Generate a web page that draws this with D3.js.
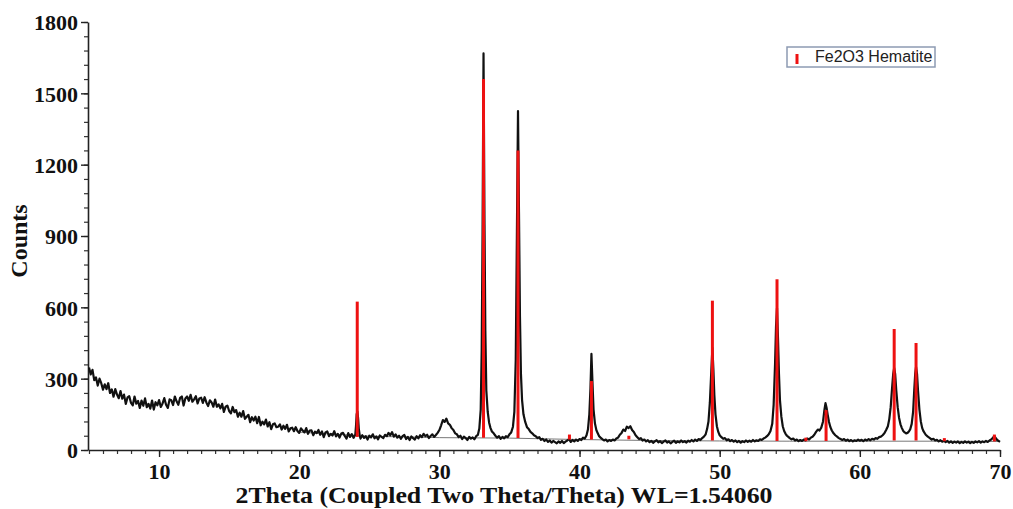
<!DOCTYPE html>
<html>
<head>
<meta charset="utf-8">
<script src="https://cdn.jsdelivr.net/npm/d3@7"></script>
<style>
    body { margin: 0; background: #ffffff; }
    svg { display: block; }
</style>
</head>
<body>
<svg id="chart" width="1013" height="509"></svg>
<script>
var pattern = [
    [5.0,347],[5.125,318],[5.25,337],[5.375,294],[5.5,305],[5.625,271],[5.75,300],[5.875,281],
    [6.0,254],[6.125,276],[6.25,256],[6.375,281],[6.5,240],[6.625,255],[6.75,224],[6.875,256],
    [7.0,233],[7.125,218],[7.25,248],[7.375,216],[7.5,233],[7.625,194],[7.75,221],[7.875,226],
    [8.0,198],[8.125,188],[8.25,225],[8.375,195],[8.5,206],[8.625,177],[8.75,208],[8.875,186],
    [9.0,217],[9.125,180],[9.25,194],[9.375,174],[9.5,208],[9.625,170],[9.75,201],[9.875,188],
    [10.0,210],[10.125,181],[10.25,196],[10.375,218],[10.5,190],[10.625,177],[10.75,213],[10.875,209],
    [11.0,189],[11.125,225],[11.25,205],[11.375,190],[11.5,219],[11.625,225],[11.75,187],[11.875,217],
    [12.0,225],[12.125,207],[12.25,232],[12.375,203],[12.5,213],[12.625,226],[12.75,196],[12.875,217],
    [13.0,220],[13.125,198],[13.25,222],[13.375,200],[13.5,185],[13.625,209],[13.75,200],[13.875,182],
    [14.0,212],[14.125,182],[14.25,192],[14.375,175],[14.5,194],[14.625,160],[14.75,182],[14.875,187],
    [15.0,164],[15.125,154],[15.25,181],[15.375,159],[15.5,168],[15.625,140],[15.75,157],[15.875,140],
    [16.0,164],[16.125,131],[16.25,140],[16.375,148],[16.5,117],[16.625,138],[16.75,124],[16.875,140],
    [17.0,113],[17.125,139],[17.25,104],[17.375,119],[17.5,108],[17.625,128],[17.75,99],[17.875,117],
    [18.0,88],[18.125,108],[18.25,112],[18.375,96],[18.5,98],[18.625,108],[18.75,86],[18.875,102],
    [19.0,89],[19.125,106],[19.25,78],[19.375,91],[19.5,94],[19.625,79],[19.75,96],[19.875,80],
    [20.0,72],[20.125,91],[20.25,82],[20.375,74],[20.5,92],[20.625,68],[20.75,82],[20.875,83],
    [21.0,62],[21.125,77],[21.25,71],[21.375,84],[21.5,64],[21.625,78],[21.75,54],[21.875,74],
    [22.0,78],[22.125,58],[22.25,68],[22.375,61],[22.5,79],[22.625,57],[22.75,68],[22.875,52],
    [23.0,69],[23.125,72],[23.25,59],[23.375,48],[23.5,71],[23.625,55],[23.75,67],[23.875,51],
    [24.0,64],[24.05,100],[24.1,150],[24.15,162],[24.2,135],[24.25,90],[24.32,60],
    [24.375,48],[24.5,62],[24.625,51],[24.75,58],[24.875,44],[25.0,60],[25.125,53],[25.25,66],
    [25.375,49],[25.5,57],[25.625,45],[25.75,61],[25.875,55],[26.0,50],[26.125,64],[26.25,58],
    [26.375,72],[26.5,62],[26.625,75],[26.75,56],[26.875,66],[27.0,52],[27.125,60],[27.25,47],
    [27.375,58],[27.5,63],[27.625,46],[27.75,55],[27.875,42],[28.0,57],[28.125,50],[28.25,44],
    [28.375,58],[28.5,49],[28.625,62],[28.75,54],[28.875,68],[29.0,58],[29.125,64],[29.25,50],
    [29.375,59],[29.5,66],[29.625,55],[29.75,63],[29.875,72],[30.0,84],[30.125,104],[30.25,126],
    [30.375,118],[30.5,132],[30.625,112],[30.75,106],[30.875,92],[31.0,84],[31.125,70],[31.25,66],
    [31.375,54],[31.5,60],[31.625,46],[31.75,56],[31.875,50],[32.0,42],[32.125,55],[32.25,48],
    [32.375,53],[32.5,45],[32.625,58],[32.75,64],[32.85,90],[32.95,170],[33.02,420],[33.08,900],
    [33.15,1668],[33.22,950],[33.28,500],[33.35,250],[33.45,160],[33.55,115],[33.65,92],[33.75,78],
    [33.875,70],[34.0,60],[34.125,52],[34.25,58],[34.375,47],[34.5,55],[34.625,49],[34.75,58],
    [34.875,54],[35.0,66],[35.125,74],[35.25,98],[35.35,160],[35.45,380],[35.53,900],[35.61,1425],
    [35.68,1000],[35.75,560],[35.82,320],[35.9,210],[36.0,150],[36.125,118],[36.25,96],[36.375,88],
    [36.5,76],[36.625,70],[36.75,62],[36.875,58],[37.0,50],[37.125,54],[37.25,43],[37.375,47],
    [37.5,38],[37.625,44],[37.75,34],[37.875,40],[38.0,31],[38.125,38],[38.25,33],[38.375,28],
    [38.5,36],[38.625,30],[38.75,38],[38.875,29],[39.0,35],[39.125,40],[39.25,46],[39.375,34],
    [39.5,42],[39.625,36],[39.75,44],[39.875,38],[40.0,46],[40.125,42],[40.25,52],[40.375,48],
    [40.5,62],[40.6,86],[40.7,150],[40.78,260],[40.85,404],[40.92,290],[41.0,170],[41.1,112],
    [41.2,84],[41.3,70],[41.4,58],[41.5,52],[41.625,46],[41.75,40],[41.875,44],[42.0,36],
    [42.125,42],[42.25,38],[42.375,44],[42.5,40],[42.625,48],[42.75,52],[42.875,64],[43.0,72],
    [43.125,86],[43.25,80],[43.375,98],[43.5,92],[43.625,100],[43.75,84],[43.875,76],[44.0,62],
    [44.125,54],[44.25,46],[44.375,50],[44.5,40],[44.625,44],[44.75,36],[44.875,41],[45.0,33],
    [45.125,38],[45.25,30],[45.375,36],[45.5,41],[45.625,32],[45.75,37],[45.875,29],[46.0,35],
    [46.125,40],[46.25,31],[46.375,36],[46.5,28],[46.625,34],[46.75,39],[46.875,30],[47.0,36],
    [47.125,32],[47.25,40],[47.375,33],[47.5,37],[47.625,31],[47.75,39],[47.875,35],[48.0,42],
    [48.125,36],[48.25,44],[48.375,38],[48.5,46],[48.625,42],[48.75,50],[48.875,56],[49.0,66],
    [49.1,88],[49.2,120],[49.3,200],[49.4,330],[49.48,430],[49.55,340],[49.62,230],[49.7,150],
    [49.8,100],[49.9,76],[50.0,62],[50.125,54],[50.25,47],[50.375,50],[50.5,41],[50.625,45],
    [50.75,37],[50.875,42],[51.0,35],[51.125,40],[51.25,33],[51.375,38],[51.5,31],[51.625,37],
    [51.75,33],[51.875,40],[52.0,34],[52.125,39],[52.25,35],[52.375,42],[52.5,36],[52.625,41],
    [52.75,38],[52.875,45],[53.0,42],[53.125,48],[53.25,52],[53.375,58],[53.5,66],[53.625,80],
    [53.75,110],[53.85,190],[53.95,360],[54.02,520],[54.09,597],[54.16,470],[54.23,320],[54.3,210],
    [54.4,140],[54.5,100],[54.6,80],[54.7,68],[54.8,60],[54.9,55],[55.0,50],[55.125,45],
    [55.25,48],[55.375,40],[55.5,44],[55.625,37],[55.75,42],[55.875,38],[56.0,44],[56.125,40],
    [56.25,48],[56.375,44],[56.5,52],[56.625,56],[56.75,64],[56.875,76],[57.0,86],[57.125,82],
    [57.25,94],[57.375,120],[57.475,170],[57.55,197],[57.625,178],[57.7,150],[57.8,118],[57.9,96],
    [58.0,82],[58.125,70],[58.25,62],[58.375,56],[58.5,50],[58.625,46],[58.75,42],[58.875,46],
    [59.0,39],[59.125,44],[59.25,37],[59.375,42],[59.5,36],[59.625,41],[59.75,38],[59.875,44],
    [60.0,39],[60.125,43],[60.25,37],[60.375,44],[60.5,40],[60.625,46],[60.75,41],[60.875,47],
    [61.0,44],[61.125,50],[61.25,47],[61.375,54],[61.5,56],[61.625,62],[61.75,70],[61.875,84],
    [62.0,100],[62.1,130],[62.2,180],[62.3,260],[62.38,320],[62.45,345],[62.52,320],[62.6,250],
    [62.7,180],[62.8,135],[62.9,108],[63.0,92],[63.1,80],[63.2,74],[63.3,70],[63.4,72],
    [63.5,78],[63.6,88],[63.7,110],[63.8,160],[63.88,250],[63.95,320],[64.01,350],[64.08,320],
    [64.15,250],[64.25,170],[64.35,120],[64.45,92],[64.55,78],[64.7,64],[64.85,56],[65.0,50],
    [65.125,44],[65.25,47],[65.375,40],[65.5,43],[65.625,36],[65.75,41],[65.875,35],[66.0,39],
    [66.125,33],[66.25,38],[66.375,31],[66.5,36],[66.625,30],[66.75,35],[66.875,31],[67.0,36],
    [67.125,29],[67.25,34],[67.375,30],[67.5,36],[67.625,31],[67.75,35],[67.875,29],[68.0,34],
    [68.125,30],[68.25,36],[68.375,32],[68.5,37],[68.625,31],[68.75,36],[68.875,33],[69.0,38],
    [69.125,34],[69.25,40],[69.375,44],[69.5,52],[69.6,58],[69.7,50],[69.8,42],[69.9,38],
    [70.0,34]
];

// background curve under the peaks
var background = [[20,75],[25,58],[30,52],[35,50],[40,44],[45,40],[50,38],[55,37],[60,37],[65,37],[70,36]];

// Fe2O3 hematite reference lines
var stickPos  = [24.14, 33.15, 35.61, 39.28, 40.85, 43.52, 49.48, 54.09, 56.15, 57.59, 62.45, 64.01, 66.03, 69.6];
var stickTop  = [624, 1560, 1260, 65, 290, 60, 628, 718, 52, 168, 509, 450, 50, 65];
var stickBase = [55, 52, 50, 44, 44, 45, 40, 38, 37, 38, 40, 40, 37, 36];

var xTicks = [10, 20, 30, 40, 50, 60, 70];
var yTicks = [0, 300, 600, 900, 1200, 1500, 1800];

var serif = "'Liberation Serif', 'Times New Roman', serif";

var svg = d3.select("#chart");

var x = d3.scaleLinear().domain([4.93, 70]).range([88, 1000]);
var y = d3.scaleLinear().domain([0, 1800]).range([450, 22]);

// minor ticks
var xMinor = d3.range(5, 71, 1);
var yMinor = d3.range(0, 1801, 60);

svg.append("g")
    .attr("transform", "translate(0,450)")
    .call(d3.axisBottom(x).tickValues(xMinor).tickSize(4).tickFormat(""))
    .call(g => g.select(".domain").remove())
    .selectAll("line").attr("stroke", "#333").attr("stroke-width", 1.2);

svg.append("g")
    .attr("transform", "translate(88,0)")
    .call(d3.axisLeft(y).tickValues(yMinor).tickSize(4).tickFormat(""))
    .call(g => g.select(".domain").remove())
    .selectAll("line").attr("stroke", "#333").attr("stroke-width", 1.2);

// major axes
var xAxis = svg.append("g")
    .attr("transform", "translate(0,450)")
    .call(d3.axisBottom(x).tickValues(xTicks).tickSize(7).tickSizeOuter(0).tickPadding(6).tickFormat(d3.format("d")));

var yAxis = svg.append("g")
    .attr("transform", "translate(88,0)")
    .call(d3.axisLeft(y).tickValues(yTicks).tickSize(7).tickSizeOuter(0).tickPadding(3).tickFormat(d3.format("d")));

[xAxis, yAxis].forEach(function(a)
{
    a.select(".domain").attr("stroke", "#222").attr("stroke-width", 1.6);
    a.selectAll("line").attr("stroke", "#222").attr("stroke-width", 1.4);
    a.selectAll("text")
        .attr("font-family", serif)
        .attr("font-weight", "bold")
        .attr("font-size", 22)
        .attr("fill", "#111");
});
yAxis.selectAll("text").attr("dy", "0.36em");

// background line
var line = d3.line().x(d => x(d[0])).y(d => y(d[1]));

svg.append("path")
    .datum(background)
    .attr("d", line)
    .attr("fill", "none")
    .attr("stroke", "#555")
    .attr("stroke-width", 0.8);

// measured pattern
svg.append("path")
    .datum(pattern)
    .attr("d", line)
    .attr("fill", "none")
    .attr("stroke", "#111")
    .attr("stroke-width", 2.2)
    .attr("stroke-linejoin", "round");

// hematite sticks
svg.selectAll(".stick")
    .data(stickPos)
    .enter().append("line")
    .attr("class", "stick")
    .attr("x1", d => x(d))
    .attr("x2", d => x(d))
    .attr("y1", (d, i) => y(stickBase[i]))
    .attr("y2", (d, i) => y(stickTop[i]))
    .attr("stroke", "#ee1111")
    .attr("stroke-width", 3);

// axis titles
svg.append("text")
    .attr("x", 504)
    .attr("y", 503)
    .attr("text-anchor", "middle")
    .attr("font-family", serif)
    .attr("font-weight", "bold")
    .attr("font-size", 24)
    .attr("textLength", 537)
    .attr("lengthAdjust", "spacingAndGlyphs")
    .attr("fill", "#111")
    .text("2Theta (Coupled Two Theta/Theta) WL=1.54060");

svg.append("text")
    .attr("transform", "translate(27,241) rotate(-90)")
    .attr("text-anchor", "middle")
    .attr("font-family", serif)
    .attr("font-weight", "bold")
    .attr("font-size", 24)
    .attr("fill", "#111")
    .text("Counts");

// legend
var legend = svg.append("g");
legend.append("rect")
    .attr("x", 787).attr("y", 47)
    .attr("width", 148).attr("height", 20)
    .attr("fill", "#ffffff")
    .attr("stroke", "#8d9bb3")
    .attr("stroke-width", 1.5);
legend.append("line")
    .attr("x1", 797).attr("x2", 797)
    .attr("y1", 54).attr("y2", 64)
    .attr("stroke", "#ee1111")
    .attr("stroke-width", 3);
legend.append("text")
    .attr("x", 815).attr("y", 62)
    .attr("font-family", "'Liberation Sans', Arial, sans-serif")
    .attr("font-size", 16)
    .attr("fill", "#222")
    .text("Fe2O3 Hematite");
</script>
</body>
</html>
